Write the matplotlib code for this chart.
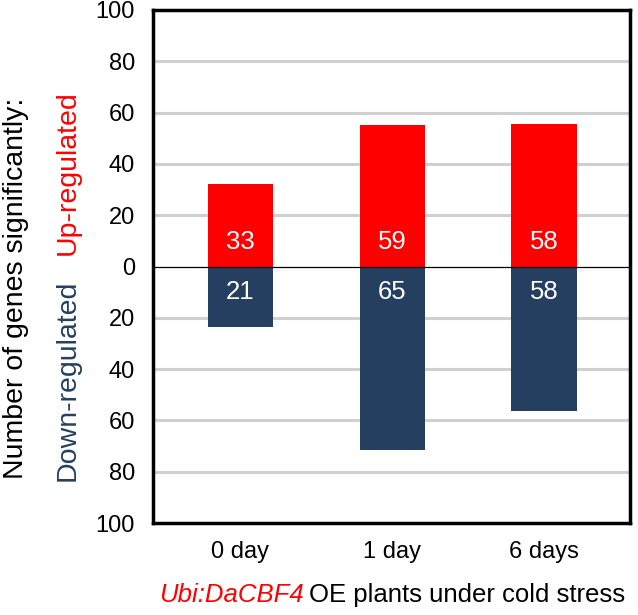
import matplotlib.pyplot as plt

plt.rcParams['font.family'] = ['Liberation Sans', 'DejaVu Sans']

days = ['0 day', '1 day', '6 days']
up_height = [32, 55, 55.6]      # bar heights as drawn
down_height = [23.6, 71.5, 56.5]
up_labels = ['33', '59', '58']  # numbers printed in the bars
down_labels = ['21', '65', '58']
yticks = [-100, -80, -60, -40, -20, 0, 20, 40, 60, 80, 100]

red = '#ff0000'
navy = '#253f60'

fig = plt.figure(figsize=(6.38, 6.15), dpi=100)
ax = fig.add_axes([153 / 638, 92 / 615, 477 / 638, 513 / 615])

x = list(range(len(days)))
ax.bar(x, up_height, width=0.43, color=red, zorder=2)
ax.bar(x, [-d for d in down_height], width=0.43, color=navy, zorder=2)

for i in x:
    ax.text(i, 9.5, up_labels[i], color='white', fontsize=18.5, ha='center', va='center', zorder=3)
    ax.text(i, -10, down_labels[i], color='white', fontsize=18.5, ha='center', va='center', zorder=3)

# grid (not at 0), zero line in black
for y in yticks:
    if y not in (0, 100, -100):
        ax.axhline(y, color='#d0d0d0', lw=2.2, zorder=1)
ax.axhline(0, color='black', lw=0.9, zorder=3)

ax.set_xlim(-0.576, 2.566)
ax.set_ylim(-100, 100)
ax.set_yticks(yticks)
ax.set_yticklabels([str(abs(v)) for v in yticks])
ax.set_xticks(x)
ax.set_xticklabels(days)
ax.tick_params(length=0, labelsize=17)
ax.tick_params(axis='x', pad=13)
ax.tick_params(axis='y', pad=13)
for s in ax.spines.values():
    s.set_linewidth(2.5)

fig.text(16 / 638, 1 - 288 / 615, 'Number of genes significantly:', rotation=90,
         fontsize=20.5, ha='center', va='center')
fig.text(68 / 638, 1 - 173 / 615, 'Up-regulated', rotation=90, color=red,
         fontsize=20.5, ha='center', va='center')
fig.text(68 / 638, 1 - 380 / 615, 'Down-regulated', rotation=90, color=navy,
         fontsize=20.5, ha='center', va='center')

fig.text(304 / 638, 1 - 595 / 615, 'Ubi:DaCBF4', color=red, style='italic',
         fontsize=18.5, ha='right', va='center')
fig.text(309 / 638, 1 - 595 / 615, 'OE plants under cold stress',
         fontsize=18.5, ha='left', va='center')

fig.savefig('out.png', dpi=100)
